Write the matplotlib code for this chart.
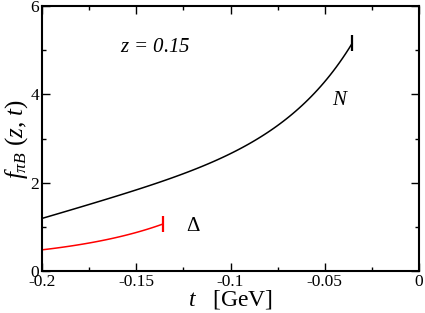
import numpy as np
import matplotlib.pyplot as plt
from matplotlib.ticker import MultipleLocator

plt.rcParams['font.family'] = ['Liberation Serif', 'DejaVu Serif']
plt.rcParams['mathtext.fontset'] = 'custom'
plt.rcParams['mathtext.rm'] = 'Liberation Serif'
plt.rcParams['mathtext.it'] = 'Liberation Serif:italic'

# nucleon curve (black)
t_N = [-0.2, -0.175, -0.15, -0.125, -0.1, -0.075, -0.05, -0.0355]
f_N = [1.2, 1.47, 1.88, 2.2, 2.64, 3.3, 4.28, 5.16]

# delta curve (red)
t_D = [-0.2, -0.175, -0.15, -0.1358]
f_D = [0.48, 0.63, 0.88, 1.06]

def smooth(t, f, deg):
    # smooth curve through the read points
    c = np.polyfit(t, np.log(f), deg)
    tt = np.linspace(t[0], t[-1], 100)
    return tt, np.exp(np.polyval(c, tt))

fig = plt.figure(figsize=(4.25, 3.13), dpi=100)
ax = fig.add_axes([42/425, 1-271/313, 377/425, 265/313])

tt, ff = smooth(t_N, f_N, 3)
ax.plot(tt, ff, color='black', lw=1.1)
ax.plot(tt[-1], ff[-1], marker='|', color='black', ms=11, mew=1.6)
tt, ff = smooth(t_D, f_D, 2)
ax.plot(tt, ff, color='red', lw=1.1)
ax.plot(tt[-1], ff[-1], marker='|', color='red', ms=11, mew=1.6)

ax.text(-0.14, 5.07, '$z$ = 0.15', fontsize=15, style='italic', ha='center', va='center')
ax.text(-0.0424, 3.87, 'N', fontsize=15, style='italic', ha='center', va='center')
ax.text(-0.12, 1.0, 'Δ', fontsize=15, ha='center', va='center')

ax.set_xlim(-0.2, 0)
ax.set_ylim(0, 6)
ax.xaxis.set_minor_locator(MultipleLocator(0.025))
ax.yaxis.set_major_locator(MultipleLocator(2))
ax.yaxis.set_minor_locator(MultipleLocator(1))
ax.set_xticks([-0.2, -0.15, -0.1, -0.05, 0])
ax.set_xticklabels(['-0.2', '-0.15', '-0.1', '-0.05', '0'])
ax.tick_params(which='both', direction='in', top=True, right=True, labelsize=12.5, width=1)
ax.tick_params(axis='x', pad=2)
ax.tick_params(axis='y', pad=2)
ax.tick_params(which='major', length=6)
ax.tick_params(which='minor', length=3)
for s in ax.spines.values():
    s.set_linewidth(1.5)

ax.set_xlabel('$t$   [GeV]', fontsize=17, labelpad=-1)
ax.set_ylabel(r'$f_{\pi B}$ ($z$, $t$)', fontsize=18, labelpad=0)

fig.savefig('out.png', dpi=100)
